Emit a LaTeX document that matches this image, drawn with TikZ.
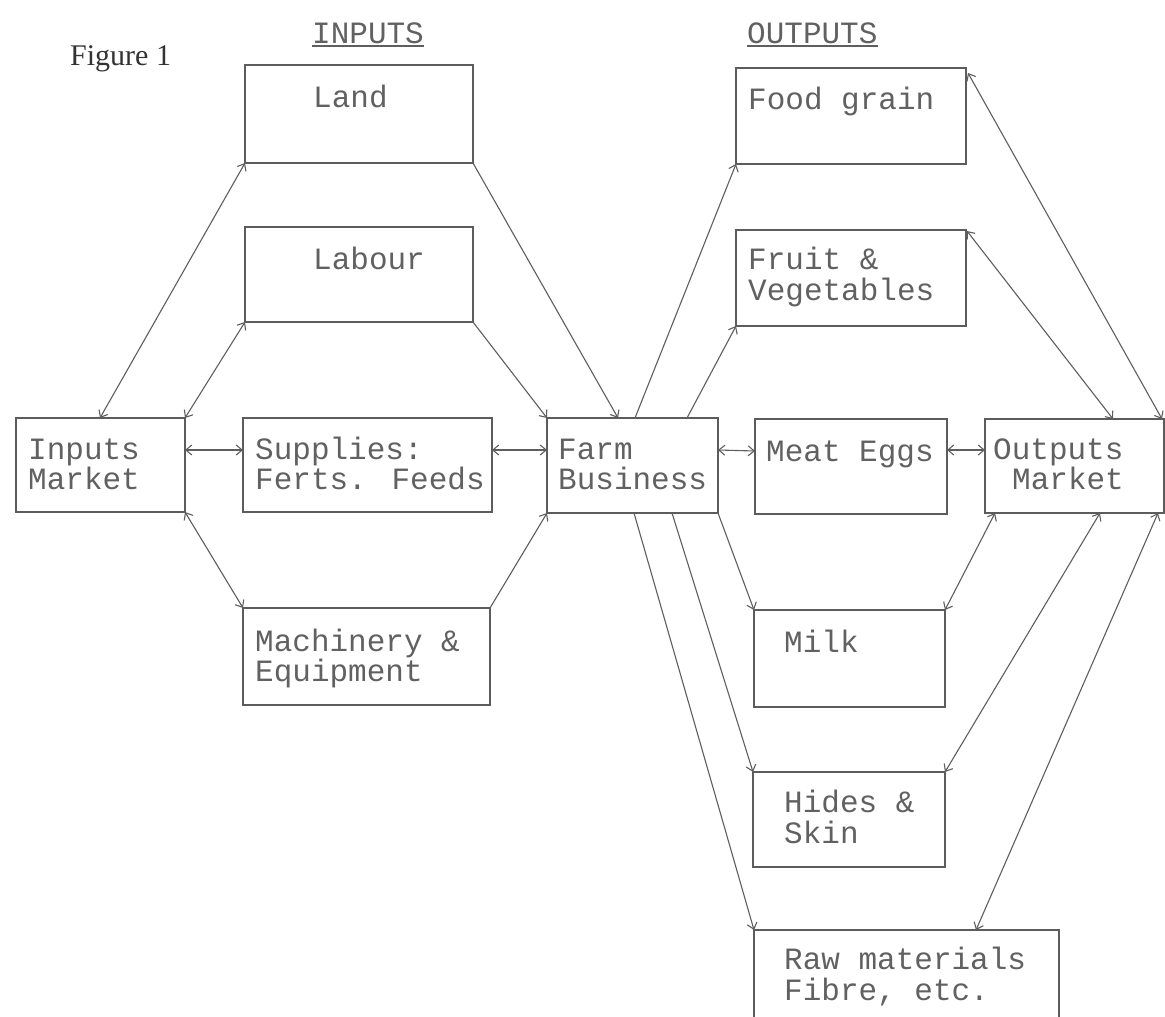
\documentclass[tikz,border=0pt]{standalone}
\usepackage{fontspec}
\setmainfont{Liberation Serif}
\newfontfamily\monofam{Liberation Mono}
\usetikzlibrary{arrows.meta,calc}
\definecolor{boxc}{HTML}{5C5C5C}
\definecolor{linec}{HTML}{5E5E5E}
\definecolor{txtc}{HTML}{616161}
\begin{document}
\begin{tikzpicture}[x=1pt,y=-1pt,
  box/.style={draw=boxc, line width=1.4pt, rectangle, inner sep=0pt, outer sep=0pt, anchor=north west},
  txt/.style={anchor=base west, inner sep=0pt, font=\monofam\fontsize{31}{31}\selectfont, text=txtc},
  con/.style={draw=linec, line width=1.1pt},
  arr/.style={con, -{Straight Barb[length=6pt,width=10pt]}},
  darr/.style={con, {Straight Barb[length=6pt,width=10pt]}-{Straight Barb[length=6pt,width=10pt]}}
]
\useasboundingbox (0,0) rectangle (1165,1017);
\clip (0,0) rectangle (1165,1017);
\fill[white] (0,0) rectangle (1165,1017);

% titles
\node[anchor=base west, inner sep=0pt, font=\fontsize{30}{30}\selectfont, text=black!80] (fig) at (70,65) {Figure 1};
\node[txt] (tin) at (312,43) {INPUTS};
\node[txt] (tout) at (747,43) {OUTPUTS};
\draw[con] ($(tin.base west)+(0,3)$) -- ($(tin.base east)+(0,3)$);
\draw[con] ($(tout.base west)+(0,3)$) -- ($(tout.base east)+(0,3)$);

% boxes
\node[box, minimum width=228pt, minimum height=98pt] (land) at (245,65) {};
\node[box, minimum width=228pt, minimum height=95pt] (labour) at (245,227) {};
\node[box, minimum width=169pt, minimum height=94pt] (inmkt) at (16,418) {};
\node[box, minimum width=249pt, minimum height=94pt] (supp) at (243,418) {};
\node[box, minimum width=247pt, minimum height=97pt] (mach) at (243,608) {};
\node[box, minimum width=171pt, minimum height=95pt] (farm) at (547,418) {};
\node[box, minimum width=192pt, minimum height=95pt] (meat) at (755,419) {};
\node[box, minimum width=179pt, minimum height=94pt] (outm) at (985,419) {};
\node[box, minimum width=230pt, minimum height=96pt] (food) at (736,68) {};
\node[box, minimum width=230pt, minimum height=96pt] (fruit) at (736,230) {};
\node[box, minimum width=191pt, minimum height=97pt] (milk) at (754,610) {};
\node[box, minimum width=192pt, minimum height=95pt] (hides) at (753,772) {};
\node[box, minimum width=305pt, minimum height=130pt] (raw) at (754,930) {};

% texts
\node[txt] (t1) at (313,107) {Land};
\node[txt] (t2) at (313,269) {Labour};
\node[txt] (t3a) at (28,459) {Inputs};
\node[txt] (t3b) at (28,489) {Market};
\node[txt] (t4a) at (255,459) {Supplies:};
\node[txt] (t4b) at (255,489) {Ferts. Feeds};
\node[txt] (t5a) at (255,651) {Machinery \&};
\node[txt] (t5b) at (255,681) {Equipment};
\node[txt] (t6a) at (558,459) {Farm};
\node[txt] (t6b) at (558,489) {Business};
\node[txt] (t7) at (766,461) {Meat Eggs};
\node[txt] (t8a) at (993,459) {Outputs};
\node[txt] (t8b) at (1012,489) {Market};
\node[txt] (t9) at (748,109) {Food grain};
\node[txt] (t10a) at (748,269) {Fruit \&};
\node[txt] (t10b) at (748,300) {Vegetables};
\node[txt] (t11) at (784,652) {Milk};
\node[txt] (t12a) at (784,812) {Hides \&};
\node[txt] (t12b) at (784,843) {Skin};
\node[txt] (t13a) at (784,969) {Raw materials};
\node[txt] (t13b) at (784,1000) {Fibre, etc.};

% input side connectors
\draw[darr] ($(inmkt.north west)+(84,0)$) -- (land.south west);
\draw[darr] (inmkt.north east) -- (labour.south west);
\draw[darr] ($(inmkt.north east)+(0,32)$) -- ($(supp.north west)+(0,32)$);
\draw[darr] (inmkt.south east) -- (mach.north west);
\draw[arr] (land.south east) -- ($(farm.north west)+(71,0)$);
\draw[arr] (labour.south east) -- (farm.north west);
\draw[darr] ($(supp.north east)+(0,32)$) -- ($(farm.north west)+(0,32)$);
\draw[arr] (mach.north east) -- (farm.south west);

% output side connectors
\draw[arr] ($(farm.north west)+(88,0)$) -- (food.south west);
\draw[arr] ($(farm.north west)+(140,0)$) -- (fruit.south west);
\draw[darr] ($(farm.north east)+(0,32)$) -- ($(meat.north west)+(0,32)$);
\draw[darr] ($(meat.north east)+(0,31)$) -- ($(outm.north west)+(0,31)$);
\draw[arr] ($(farm.south west)+(171,0)$) -- (milk.north west);
\draw[arr] ($(farm.south west)+(125,0)$) -- (hides.north west);
\draw[arr] ($(farm.south west)+(87,0)$) -- (raw.north west);
\draw[darr] ($(outm.south west)+(10,0)$) -- (milk.north east);
\draw[darr] ($(outm.south west)+(115,0)$) -- (hides.north east);
\draw[darr] ($(outm.south west)+(173,0)$) -- ($(raw.north west)+(222,0)$);
\draw[darr] ($(outm.north east)+(-2,0)$) -- ($(food.north east)+(2,5)$);
\draw[darr] ($(outm.north west)+(128,0)$) -- ($(fruit.north east)+(1,1)$);
\end{tikzpicture}
\end{document}
